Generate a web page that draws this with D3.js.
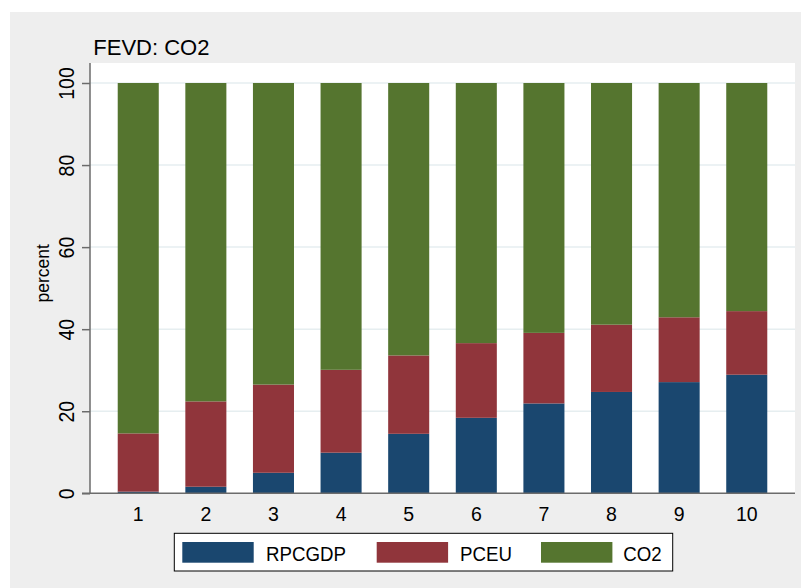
<!DOCTYPE html>
<html>
<head>
<meta charset="utf-8">
<script src="https://cdn.jsdelivr.net/npm/d3@7"></script>
<style>
  html, body { margin: 0; padding: 0; background: #ffffff; }
  svg { display: block; font-family: "Liberation Sans", Arial, Helvetica, sans-serif; }
</style>
</head>
<body>
<svg id="chart" width="802" height="588"></svg>
<script>
// Forecast-error variance decomposition of CO2, horizons 1..10 (percent)
const horizons = [1, 2, 3, 4, 5, 6, 7, 8, 9, 10];
const rpcgdp = [0.4, 1.6, 5.0, 9.9, 14.5, 18.4, 21.9, 24.7, 27.1, 28.9];
const pceu   = [14.2, 20.8, 21.5, 20.2, 19.1, 18.2, 17.2, 16.4, 15.8, 15.5];
const co2    = [85.4, 77.6, 73.5, 69.9, 66.4, 63.4, 60.9, 58.9, 57.1, 55.6];
const seriesNames = ["RPCGDP", "PCEU", "CO2"];
const seriesColors = ["#1a476f", "#90353b", "#55752f"];
const yTicks = [0, 20, 40, 60, 80, 100];
const chartTitle = "FEVD: CO2";
const yTitle = "percent";

const rows = horizons.map((h, i) => ({ h, RPCGDP: rpcgdp[i], PCEU: pceu[i], CO2: co2[i] }));
const stacked = d3.stack().keys(seriesNames)(rows);

const svg = d3.select("#chart");

// Outer graph region
svg.append("rect").attr("x", 10).attr("y", 12).attr("width", 791).attr("height", 576)
  .attr("fill", "#eeeeee");

const plot = { left: 90, right: 795, top: 63, bottom: 493.3 };

// Plot region
svg.append("rect").attr("x", plot.left).attr("y", plot.top)
  .attr("width", plot.right - plot.left).attr("height", plot.bottom - plot.top)
  .attr("fill", "#ffffff");

const x = d3.scaleBand().domain(horizons).range([plot.left, plot.right])
  .paddingInner(0.393).paddingOuter(0.41);
const y = d3.scaleLinear().domain([0, 100]).range([plot.bottom, 83]);

// Horizontal grid lines
svg.append("g").selectAll("line").data(yTicks.filter(t => t > 0)).join("line")
  .attr("x1", plot.left).attr("x2", plot.right)
  .attr("y1", d => y(d)).attr("y2", d => y(d))
  .attr("stroke", "#e6eef0").attr("stroke-width", 1.5);

// Stacked bars
svg.append("g").selectAll("g").data(stacked).join("g")
  .attr("fill", (d, i) => seriesColors[i])
  .selectAll("rect").data(d => d).join("rect")
  .attr("x", d => x(d.data.h))
  .attr("width", x.bandwidth())
  .attr("y", d => y(d[1]))
  .attr("height", d => y(d[0]) - y(d[1]));

// Y axis
const yAxis = svg.append("g").attr("transform", `translate(${plot.left},0)`)
  .call(d3.axisLeft(y).tickValues(yTicks).tickSize(8).tickPadding(0).tickFormat(d3.format("d")));
yAxis.select(".domain").attr("stroke", "#6b6b6b").attr("stroke-width", 1.5)
  .attr("d", `M0,${plot.top}V${plot.bottom}`);
yAxis.selectAll(".tick line").attr("stroke", "#6b6b6b").attr("stroke-width", 1.5);
yAxis.selectAll(".tick text")
  .attr("x", null).attr("dy", null)
  .attr("transform", "translate(-16,0) rotate(-90) scale(1,1.12)")
  .attr("text-anchor", "middle")
  .attr("font-size", 19.5).attr("fill", "#000")
  .attr("font-family", "Liberation Sans, Arial, sans-serif");

// X axis
const xAxis = svg.append("g").attr("transform", `translate(0,${plot.bottom})`)
  .call(d3.axisBottom(x).tickSize(0).tickPadding(0));
xAxis.select(".domain").attr("stroke", "#6b6b6b").attr("stroke-width", 1.5)
  .attr("d", `M${plot.left - 8},0H${plot.right}`);
xAxis.selectAll(".tick text")
  .attr("y", 27.7).attr("dy", null)
  .attr("font-size", 19.5).attr("fill", "#000")
  .attr("font-family", "Liberation Sans, Arial, sans-serif");

// Axis title
svg.append("text")
  .attr("transform", "translate(49.3,273.3) rotate(-90)")
  .attr("text-anchor", "middle").attr("font-size", 17.5).attr("fill", "#000")
  .text(yTitle);

// Chart title
svg.append("text").attr("x", 93.3).attr("y", 55)
  .attr("font-size", 22).attr("fill", "#000").text(chartTitle);

// Legend
svg.append("rect").attr("x", 174.3).attr("y", 533.3).attr("width", 498.4).attr("height", 37.7)
  .attr("fill", "#ffffff").attr("stroke", "#000").attr("stroke-width", 1);
const legendSwatchX = [182.3, 376.7, 541];
const legendTextX = [266, 460, 623.3];
const legend = svg.append("g").selectAll("g").data(seriesNames).join("g");
legend.append("rect")
  .attr("x", (d, i) => legendSwatchX[i]).attr("y", 542)
  .attr("width", 71.4).attr("height", 20.7)
  .attr("fill", (d, i) => seriesColors[i]);
legend.append("text")
  .attr("transform", (d, i) => `translate(${legendTextX[i]},561) scale(1,1.1)`)
  .attr("font-size", 18.7).attr("fill", "#000")
  .text(d => d);
</script>
</body>
</html>
